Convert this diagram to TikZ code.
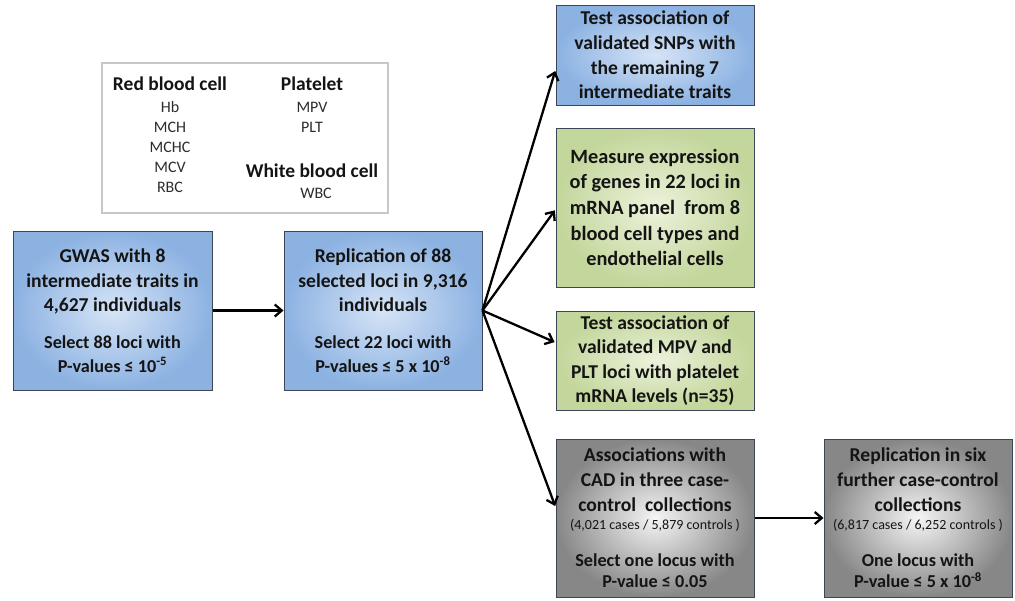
\documentclass[tikz,border=0pt]{standalone}
\usepackage{fontspec}
\setmainfont{Carlito}
\usetikzlibrary{arrows.meta,calc}
\definecolor{bluout}{RGB}{140,178,226}
\definecolor{bluin}{RGB}{214,228,246}
\definecolor{grnout}{RGB}{195,214,155}
\definecolor{grnin}{RGB}{236,242,220}
\definecolor{gryout}{RGB}{135,135,135}
\definecolor{gryin}{RGB}{245,245,245}
\definecolor{bord}{RGB}{60,70,85}
\definecolor{legbord}{RGB}{200,200,200}
\definecolor{txt}{RGB}{20,20,20}
\newcommand{\bigt}{\fontsize{19.6}{24.6}\selectfont\bfseries}
\newcommand{\midt}{\fontsize{18.2}{23}\selectfont\bfseries}
\newcommand{\smlt}{\fontsize{14}{19}\selectfont\mdseries}
\tikzset{
  box/.style={draw=bord, line width=1pt, inner sep=0pt, align=center, text=txt, font=\bigt},
  bluebox/.style={box, shading=radial, outer color=bluout, inner color=bluin},
  greenbox/.style={box, shading=radial, outer color=grnout, inner color=grnin},
  graybox/.style={box, shading=radial, outer color=gryout, inner color=gryin},
  arr/.style={line width=2.3pt, -{Straight Barb[length=7pt,width=12pt,line width=2.3pt]}},
  head/.style={font=\fontsize{19.5}{22}\selectfont\bfseries, text=txt, inner sep=0pt},
  item/.style={font=\fontsize{16}{19}\selectfont, text=txt!90, inner sep=0pt},
}
\begin{document}
\begin{tikzpicture}[x=1pt,y=-1pt]
\useasboundingbox (0,0) rectangle (1015,600);
% legend
\node[draw=legbord, line width=2pt, minimum width=286pt, minimum height=150pt, inner sep=0pt] (leg) at (245,138) {};
\node[head] (hrbc) at (170,84) {Red blood cell};
\node[item] (ihb) at (170,107) {Hb};
\node[item] (imch) at (170,127) {MCH};
\node[item] (imchc) at (170,147) {MCHC};
\node[item] (imcv) at (170,167) {MCV};
\node[item] (irbc) at (170,187) {RBC};
\node[head] (hplt) at (312,84) {Platelet};
\node[item] (impv) at (312,107) {MPV};
\node[item] (iplt) at (312,127) {PLT};
\node[head] (hwbc) at (312,171) {White blood cell};
\node[item] (iwbc) at (316,193) {WBC};
% main boxes
\node[bluebox, minimum width=199pt, minimum height=159pt] (gwas) at (112.5,310.5)
 {GWAS with 8\\ intermediate traits in\\ 4,627 individuals\\[12pt]
  \midt Select 88 loci with\\[-1pt] \midt P-values ≤ 10\textsuperscript{-5}};
\node[bluebox, minimum width=198pt, minimum height=159pt] (rep) at (383,310.5)
 {Replication of 88\\ selected loci in 9,316\\ individuals\\[12pt]
  \midt Select 22 loci with\\[-1pt] \midt P-values ≤ 5 x 10\textsuperscript{-8}};
\node[bluebox, minimum width=198pt, minimum height=100pt] (t1) at (655,55)
 {Test association of\\ validated SNPs with\\ the remaining 7\\ intermediate traits};
\node[greenbox, minimum width=198pt, minimum height=159pt, font=\fontsize{20.3}{25.7}\selectfont\bfseries] (t2) at (655,207.5)
 {Measure expression\\ of genes in 22 loci in\\ mRNA panel\ \ from 8\\ blood cell types and\\ endothelial cells};
\node[greenbox, minimum width=198pt, minimum height=99pt] (t3) at (655,360.5)
 {Test association of\\ validated MPV and\\ PLT loci with platelet\\ mRNA levels (n=35)};
\node[graybox, minimum width=198pt, minimum height=158pt] (cad) at (655,518)
 {Associations with\\ CAD in three case-\\ control\ \ collections\\[-6pt] \smlt (4,021 cases / 5,879 controls )\\[12pt]
  \midt Select one locus with\\[-3pt] \midt P-value ≤ 0.05};
\node[graybox, minimum width=188pt, minimum height=158pt] (rep6) at (918,518)
 {Replication in six\\ further case-control\\ collections\\[-6pt] \smlt (6,817 cases / 6,252 controls )\\[12pt]
  \midt One locus with\\[-3pt] \midt P-value ≤ 5 x 10\textsuperscript{-8}};
% arrows
\draw[arr] (gwas.east) -- (rep.west);
\draw[arr, shorten >=1pt] (rep.east) -- ($(t1.west)+(0,15)$);
\draw[arr, shorten >=1pt] (rep.east) -- ($(t2.west)+(0,2)$);
\draw[arr, shorten >=1pt] (rep.east) -- ($(t3.west)+(0,-18)$);
\draw[arr, shorten >=1pt] (rep.east) -- ($(cad.west)+(0,-11)$);
\draw[arr] (cad.east) -- (rep6.west);
\end{tikzpicture}
\end{document}
